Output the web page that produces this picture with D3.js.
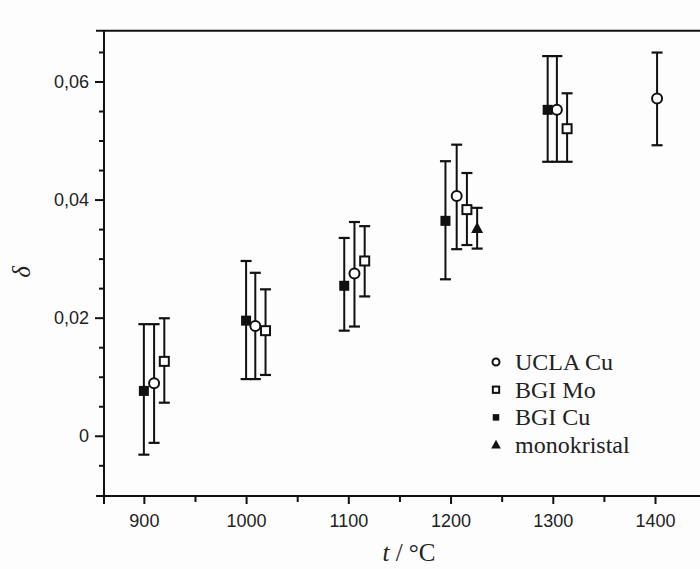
<!DOCTYPE html>
<html><head><meta charset="utf-8">
<script src="https://cdn.jsdelivr.net/npm/d3@7"></script>
<style>body{margin:0;background:#fdfdfd}svg{display:block}</style>
</head><body>
<svg id="c" width="700" height="569"></svg>
<script>
// ---- data ----
const uclaT  = [910, 1009, 1106, 1206, 1304, 1402];
const uclaD  = [0.0089, 0.0186, 0.0275, 0.0406, 0.0552, 0.0571];
const uclaLo = [-0.0012, 0.0096, 0.0185, 0.0316, 0.0464, 0.0492];
const uclaHi = [0.0189, 0.0276, 0.0362, 0.0493, 0.0643, 0.0649];

const moT  = [920, 1019, 1116, 1216, 1314];
const moD  = [0.0126, 0.0178, 0.0296, 0.0383, 0.0520];
const moLo = [0.0056, 0.0103, 0.0236, 0.0323, 0.0464];
const moHi = [0.0199, 0.0248, 0.0355, 0.0445, 0.0580];

const cuT  = [900, 1000, 1096, 1195, 1295];
const cuD  = [0.0076, 0.0195, 0.0254, 0.0364, 0.0552];
const cuLo = [-0.0032, 0.0096, 0.0178, 0.0265, 0.0464];
const cuHi = [0.0189, 0.0296, 0.0335, 0.0465, 0.0643];

const monoT  = [1226];
const monoD  = [0.0351];
const monoLo = [0.0317];
const monoHi = [0.0386];

const xTicks = [900, 1000, 1100, 1200, 1300, 1400];
const xMinor = [950, 1050, 1150, 1250, 1350];
const yTicks = [0, 0.02, 0.04, 0.06];
const yTickLabels = ["0", "0,02", "0,04", "0,06"];
const yMinor = [-0.005, 0.005, 0.01, 0.015, 0.025, 0.03, 0.035, 0.045, 0.05, 0.055, 0.065];
const legendNames = ["UCLA Cu", "BGI Mo", "BGI Cu", "monokristal"];

// ---- drawing ----
const svg = d3.select("#c");
const x = d3.scaleLinear().domain([861, 1444]).range([104, 700]);
const y = d3.scaleLinear().domain([-0.0102, 0.0686]).range([496, 30.7]);
const ink = "#111";

// frame lines
svg.append("line").attr("x1", 96).attr("x2", 700).attr("y1", y.range()[1]).attr("y2", y.range()[1]).attr("stroke", ink).attr("stroke-width", 2);
// axes
const gx = svg.append("g").attr("transform", `translate(0,${y.range()[0]})`)
  .call(d3.axisBottom(x).tickValues(xTicks).tickSize(8).tickPadding(10).tickFormat(d3.format("d")));
const gxm = svg.append("g").attr("transform", `translate(0,${y.range()[0]})`)
  .call(d3.axisBottom(x).tickValues(xMinor).tickSize(6).tickFormat(""));
const gy = svg.append("g").attr("transform", `translate(${x.range()[0]},0)`)
  .call(d3.axisLeft(y).tickValues(yTicks).tickSize(9).tickPadding(6).tickFormat((d, i) => yTickLabels[i]));
const gym = svg.append("g").attr("transform", `translate(${x.range()[0]},0)`)
  .call(d3.axisLeft(y).tickValues(yMinor).tickSize(5).tickFormat(""));
[gx, gxm, gy, gym].forEach(g => {
  g.select(".domain").remove();
  g.selectAll("line").attr("stroke", ink).attr("stroke-width", 2);
  g.selectAll("text").attr("fill", "#222").style("font-family", "Liberation Sans, Arial, sans-serif").style("font-size", "18px");
});
svg.append("line").attr("x1", 96).attr("x2", 700).attr("y1", y.range()[0]).attr("y2", y.range()[0]).attr("stroke", ink).attr("stroke-width", 2);
svg.append("line").attr("x1", x.range()[0]).attr("x2", x.range()[0]).attr("y1", y.range()[1]).attr("y2", 504).attr("stroke", ink).attr("stroke-width", 2);

// series
const series = [
  {t: uclaT, d: uclaD, lo: uclaLo, hi: uclaHi, sym: "circle"},
  {t: moT, d: moD, lo: moLo, hi: moHi, sym: "osquare"},
  {t: cuT, d: cuD, lo: cuLo, hi: cuHi, sym: "fsquare"},
  {t: monoT, d: monoD, lo: monoLo, hi: monoHi, sym: "triangle"}
];

function marker(g, sym, cx, cy, s) {
  if (sym === "circle") {
    g.append("circle").attr("cx", cx).attr("cy", cy).attr("r", 5 * s).attr("fill", "#fff").attr("stroke", ink).attr("stroke-width", 2);
  } else if (sym === "osquare") {
    g.append("rect").attr("x", cx - 4.5 * s).attr("y", cy - 4.5 * s).attr("width", 9 * s).attr("height", 9 * s).attr("fill", "#fff").attr("stroke", ink).attr("stroke-width", 2);
  } else if (sym === "fsquare") {
    g.append("rect").attr("x", cx - 5 * s).attr("y", cy - 5 * s).attr("width", 10 * s).attr("height", 10 * s).attr("fill", ink);
  } else {
    const h = 11 * s, w = 12 * s;
    g.append("path").attr("d", `M${cx},${cy - h * 0.6}L${cx + w / 2},${cy + h * 0.4}L${cx - w / 2},${cy + h * 0.4}Z`).attr("fill", ink);
  }
}

const gp = svg.append("g");
series.forEach(s => {
  s.t.forEach((t, i) => {
    const cx = x(t);
    gp.append("line").attr("x1", cx).attr("x2", cx).attr("y1", y(s.lo[i])).attr("y2", y(s.hi[i])).attr("stroke", ink).attr("stroke-width", 2);
    [s.lo[i], s.hi[i]].forEach(v => {
      gp.append("line").attr("x1", cx - 5.5).attr("x2", cx + 5.5).attr("y1", y(v)).attr("y2", y(v)).attr("stroke", ink).attr("stroke-width", 2.2);
    });
  });
});
series.forEach(s => {
  s.t.forEach((t, i) => marker(gp, s.sym, x(t), y(s.d[i]), 1));
});

// legend
const lg = svg.append("g");
legendNames.forEach((name, i) => {
  const cy = 362 + i * 27.7;
  const sy = [0.7, 0.7, 0.65, 0.8][i];
  marker(lg, series[i].sym, 496, cy, sy);
  lg.append("text").attr("x", 515).attr("y", cy + 8).text(name)
    .style("font-family", "Liberation Serif, Times New Roman, serif").style("font-size", "24px").attr("fill", "#222");
});

// axis titles
svg.append("text").attr("transform", "translate(30,272) rotate(-90)").attr("text-anchor", "middle")
  .style("font-family", "Liberation Serif, serif").style("font-size", "25px").style("font-style", "italic").attr("fill", "#222").text("δ");
const xt = svg.append("text").attr("x", 409).attr("y", 561).attr("text-anchor", "middle")
  .style("font-family", "Liberation Serif, serif").style("font-size", "25px").attr("fill", "#222");
xt.append("tspan").style("font-style", "italic").text("t");
xt.append("tspan").text(" / °C");
</script>
</body></html>
